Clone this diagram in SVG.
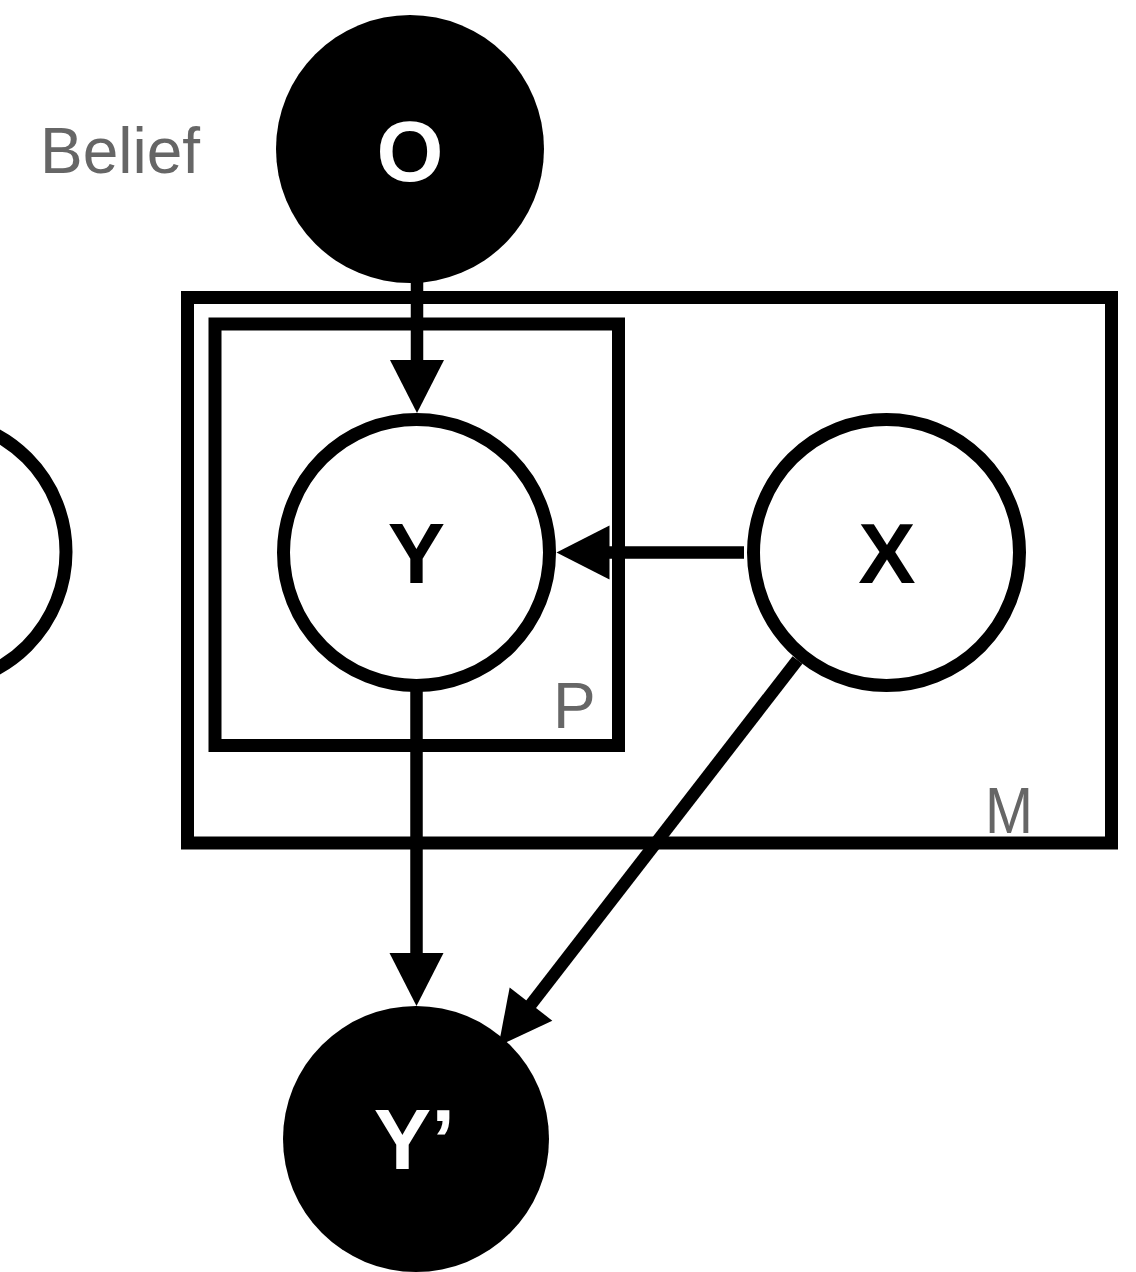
<svg xmlns="http://www.w3.org/2000/svg" width="1136" height="1272" viewBox="0 0 1136 1272">
  <style>
    .plate { fill: none; stroke: #000; stroke-width: 13; }
    .var { fill: #fff; stroke: #000; stroke-width: 13; }
    .obs { fill: #000; stroke: none; }
    .edge { fill: none; stroke: #000; stroke-width: 12.5; }
    .head { fill: #000; stroke: none; }
    .lbl { font-family: "Liberation Sans", Arial, Helvetica, sans-serif; font-size: 64px; fill: #666666; }
    .nv { font-family: "Liberation Sans", Arial, Helvetica, sans-serif; font-size: 86px; font-weight: bold; text-anchor: middle; }
    .nv-dark { fill: #000; }
    .nv-light { fill: #fff; }
  </style>
  <defs>
    <!-- arrowhead pointing along +x, tip at origin -->
    <polygon id="arrowhead" class="head" points="0,0 -53,-27 -53,27"/>
  </defs>

  <rect width="1136" height="1272" fill="#fff"/>

  <!-- plates -->
  <g id="plate-M">
    <rect class="plate" x="187.5" y="297.5" width="924" height="545.5"/>
    <text class="lbl" x="985" y="833" textLength="48" lengthAdjust="spacingAndGlyphs">M</text>
  </g>
  <g id="plate-P">
    <rect class="plate" x="215" y="324" width="403.5" height="421.5"/>
    <text class="lbl" x="553" y="728">P</text>
  </g>

  <!-- connectors -->
  <g id="connectors">
    <!-- O -> Y -->
    <line class="edge" x1="417" y1="270" x2="417" y2="363"/>
    <use href="#arrowhead" transform="translate(417,413) rotate(90)"/>
    <!-- X -> Y -->
    <line class="edge" x1="744" y1="552.5" x2="608" y2="552.5"/>
    <use href="#arrowhead" transform="translate(556.5,552.5) rotate(180)"/>
    <!-- Y -> Y' -->
    <line class="edge" x1="416.5" y1="685" x2="416.5" y2="957"/>
    <use href="#arrowhead" transform="translate(416.5,1006) rotate(90)"/>
    <!-- X -> Y' -->
    <line class="edge" x1="797.5" y1="660" x2="529" y2="1007"/>
    <use href="#arrowhead" transform="translate(498.5,1046) rotate(127.8)"/>
  </g>

  <!-- nodes -->
  <g id="node-belief-left">
    <circle class="var" cx="-67" cy="552" r="133"/>
  </g>
  <g id="node-belief-label">
    <text class="lbl" x="40" y="173">Belief</text>
  </g>
  <g id="node-O">
    <circle class="obs" cx="410" cy="149" r="134"/>
    <text class="nv nv-light" x="410" y="181">O</text>
  </g>
  <g id="node-Y">
    <circle class="var" cx="416.5" cy="552.5" r="133"/>
    <text class="nv nv-dark" x="416.5" y="583">Y</text>
  </g>
  <g id="node-X">
    <circle class="var" cx="886.5" cy="552.5" r="133"/>
    <text class="nv nv-dark" x="887" y="583">X</text>
  </g>
  <g id="node-Yprime">
    <circle class="obs" cx="416" cy="1139" r="133"/>
    <text class="nv nv-light" x="414.5" y="1169">Y’</text>
  </g>
</svg>
